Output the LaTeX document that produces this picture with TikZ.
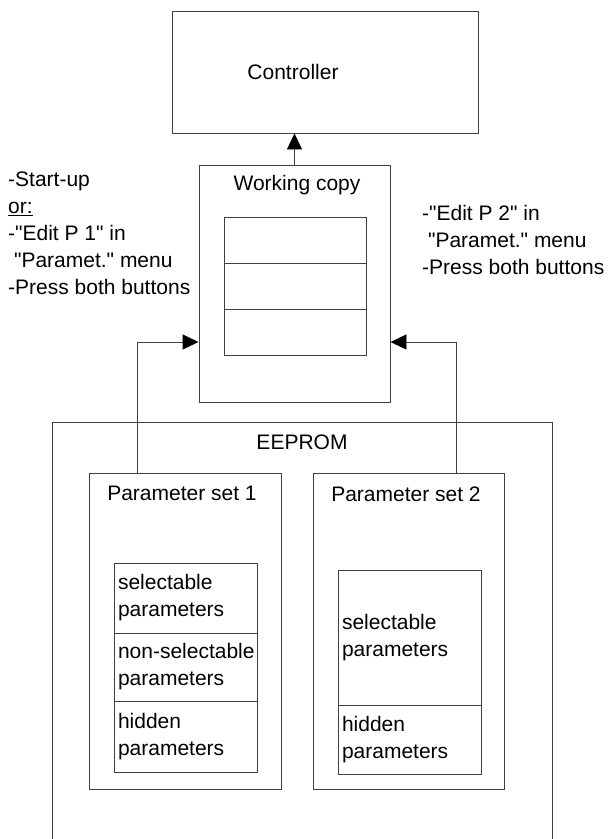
\documentclass[tikz,border=0pt]{standalone}
\usepackage{fontspec}
\setmainfont{Liberation Sans}[Ligatures=TeXOff]
\usetikzlibrary{arrows.meta}
\begin{document}
\begin{tikzpicture}
[x=1pt,y=-1pt,
  font=\fontsize{21}{27}\selectfont,
  boxdecorate/.style={shape=rectangle,draw=black!75,line width=0.9pt,inner sep=0pt},%
  celldecorate/.style={boxdecorate,inner xsep=4pt,text width=135pt,align=left},%
  linedecorate/.style={draw=black!75,line width=0.9pt,-{Triangle[length=16pt,width=15pt,color=black]}}]
\clip (0,0) rectangle (609,839);
%% outer boxes
\node (ctrl) at (325,72) [boxdecorate,minimum width=306,minimum height=122] {};
\node (wc) at (294.5,283.5) [boxdecorate,minimum width=191,minimum height=237] {};
\node (eeprom) at (302,641) [boxdecorate,minimum width=500,minimum height=438] {};
\node (ps1) at (185,631) [boxdecorate,minimum width=192,minimum height=316] {};
\node (ps2) at (408.5,631) [boxdecorate,minimum width=191,minimum height=316] {};
%% titles
\node (ctrltitle) at (293,72) {Controller};
\node (wctitle) at (297,185) {Working copy};
\node (eepromtitle) at (302,442) {EEPROM};
\node (ps1title) at (182,493) {Parameter set 1};
\node (ps2title) at (406,494) {Parameter set 2};
%% cells of the working copy
\foreach \nodename/\y in {wca/240, wcb/286, wcc/332}
{
  \node (\nodename) at (295,\y) [boxdecorate,minimum width=142,minimum height=46] {};
}
%% cells of the parameter sets
\foreach \nodename/\x/\y/\h/\txt in {p1a/185.5/598/70/{selectable\\parameters},
  p1b/185.5/667/68/{\mbox{non-selectable}\\parameters},
  p1c/185.5/736.5/71/{hidden\\parameters},
  p2a/409.5/637.5/135/{selectable\\parameters},
  p2b/409.5/739.5/69/{hidden\\parameters}}
{
  \node (\nodename) at (\x,\y) [celldecorate,minimum height=\h] {\txt};
}
%% notes
\node (note1) at (8,172) [anchor=north west,inner sep=0pt,align=left]
  {-Start-up\\\underline{or:}\\-"Edit P 1" in\\\hspace{0.28em}"Paramet." menu\\-Press both buttons};
\node (note2) at (422,205) [anchor=north west,inner sep=0pt,align=left]
  {-"Edit P 2" in\\\hspace{0.28em}"Paramet." menu\\-Press both buttons};
%% connectors
\coordinate (turn1) at (137,342);
\coordinate (turn2) at (456,342);
\draw[linedecorate] (wc.north) -- (wc.north |- ctrl.south);
\draw[linedecorate] (turn1 |- ps1.north) -- (turn1) -- (turn1 -| wc.west);
\draw[linedecorate] (turn2 |- ps2.north) -- (turn2) -- (turn2 -| wc.east);
\end{tikzpicture}
\end{document}
